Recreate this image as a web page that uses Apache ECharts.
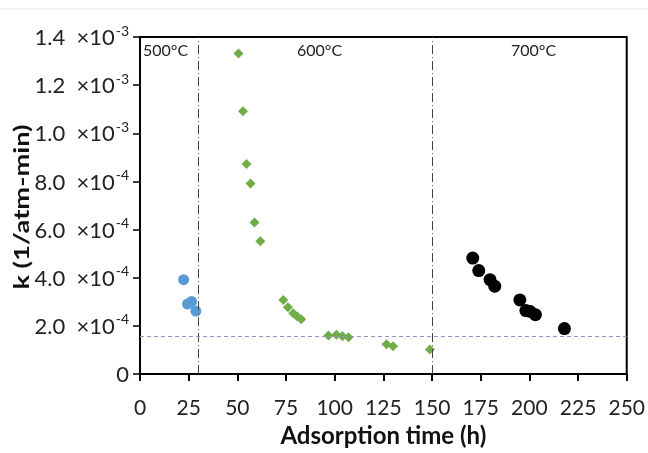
<!DOCTYPE html>
<html><head><meta charset="utf-8">
<script src="https://cdn.jsdelivr.net/npm/echarts@6/dist/echarts.min.js"></script>
<style>html,body{margin:0;padding:0;background:#fff}#c{width:648px;height:453px}</style>
</head><body><div id="c"></div>
<script>
// k values in units of 1e-4 (1/atm-min); x = adsorption time (h)
const s500_x = [22.4, 24.4, 26.5, 28.7];
const s500_k = [3.92, 2.91, 3.02, 2.62];
const s600_x = [50.6, 52.9, 54.7, 56.8, 58.8, 61.8, 73.6, 76.0, 78.7, 80.8, 82.8, 96.8, 100.9, 104.0, 107.1, 126.6, 130.0, 148.9];
const s600_k = [13.31, 10.92, 8.73, 7.92, 6.30, 5.52, 3.08, 2.78, 2.53, 2.39, 2.28, 1.60, 1.63, 1.57, 1.53, 1.24, 1.16, 1.02];
const s700_x = [170.9, 174.0, 179.8, 182.2, 195.1, 198.2, 200.4, 203.1, 218.0];
const s700_k = [4.82, 4.30, 3.92, 3.65, 3.08, 2.64, 2.60, 2.47, 1.89];
const yTickValues = [0, 2, 4, 6, 8, 10, 12, 14];
const yTickMant = ['0', '2.0', '4.0', '6.0', '8.0', '1.0', '1.2', '1.4'];
const yTickExp = ['', '-4', '-4', '-4', '-4', '-3', '-3', '-3'];
const boundaries = [30, 150];
const refLevel = 1.59;
const tempLabels = ['500°C', '600°C', '700°C'];
const xTitle = 'Adsorption time (h)';
const yTitle = 'k (1/atm-min)';

const zip = (a, b) => a.map((v, i) => [v, b[i]]);
const FONT = 'Lato';

const chart = echarts.init(document.getElementById('c'));
chart.setOption({
  animation: false,
  backgroundColor: '#fff',
  grid: { left: 140, right: 20, top: 37, bottom: 78, show: true, borderColor: '#000', borderWidth: 2 },
  xAxis: {
    type: 'value', min: 0, max: 250, interval: 25,
    name: xTitle, nameLocation: 'middle', nameGap: 49,
    nameTextStyle: { fontFamily: FONT, fontWeight: 'bold', fontSize: 24, color: '#111' },
    axisLine: { lineStyle: { color: '#000', width: 2 } },
    axisTick: { show: true, length: 7, inside: false, lineStyle: { color: '#000', width: 2 } },
    axisLabel: { fontFamily: FONT, fontSize: 21, color: '#222', margin: 24 },
    splitLine: { show: false }
  },
  yAxis: {
    type: 'value', min: 0, max: 14, interval: 2,
    axisLine: { show: true, lineStyle: { color: '#000', width: 2 } },
    axisTick: { show: true, length: 7, lineStyle: { color: '#000', width: 1.5 } },
    axisLabel: {
      margin: 11,
      formatter: function (v) {
        const i = yTickValues.indexOf(Math.round(v));
        if (i < 0) return '';
        if (yTickExp[i] === '') return '{a|' + yTickMant[i] + '}';
        return '{a|' + yTickMant[i] + '  \u00d710}{s|' + yTickExp[i] + '}';
      },
      rich: {
        a: { fontFamily: FONT, fontSize: 22, color: '#222', lineHeight: 24, verticalAlign: 'bottom' },
        s: { fontFamily: FONT, fontSize: 14, color: '#222', lineHeight: 24, verticalAlign: 'bottom', padding: [0, 0, 11, 1] }
      }
    },
    splitLine: { show: false }
  },
  series: [
    {
      name: '500', type: 'scatter', data: zip(s500_x, s500_k),
      symbol: 'circle', symbolSize: 11, itemStyle: { color: '#5b9bd5', opacity: 1 },
      markLine: {
        silent: true, symbol: 'none', label: { show: false },
        data: boundaries.map(b => ({ xAxis: b })),
        lineStyle: { color: '#444', width: 1, type: [9, 3, 1, 3] }
      }
    },
    {
      name: '600', type: 'scatter', data: zip(s600_x, s600_k),
      symbol: 'diamond', symbolSize: 10, itemStyle: { color: '#70ad47', opacity: 1 },
      markLine: {
        silent: true, symbol: 'none', label: { show: false },
        data: [{ yAxis: refLevel }],
        lineStyle: { color: '#8c96c0', width: 1, type: [4, 3] }
      }
    },
    {
      name: '700', type: 'scatter', data: zip(s700_x, s700_k),
      symbol: 'circle', symbolSize: 13, itemStyle: { color: '#000', opacity: 1 }
    }
  ],
  graphic: [
    { type: 'line', shape: { x1: 0, y1: 9, x2: 648, y2: 9 }, style: { stroke: '#e6e6e6', lineWidth: 1 } },
    { type: 'text', x: 22, y: 207, rotation: Math.PI / 2, scaleX: 1.3,
      style: { text: yTitle, fontFamily: FONT, fontWeight: 'bold', fontSize: 21, fill: '#111', align: 'center', verticalAlign: 'middle' } },
    { type: 'text', left: 143, top: 43, style: { text: tempLabels[0], fontFamily: FONT, fontSize: 16, fill: '#222' } },
    { type: 'text', left: 297, top: 43, style: { text: tempLabels[1], fontFamily: FONT, fontSize: 16, fill: '#222' } },
    { type: 'text', left: 511, top: 43, style: { text: tempLabels[2], fontFamily: FONT, fontSize: 16, fill: '#222' } }
  ]
});
</script>
</body></html>
